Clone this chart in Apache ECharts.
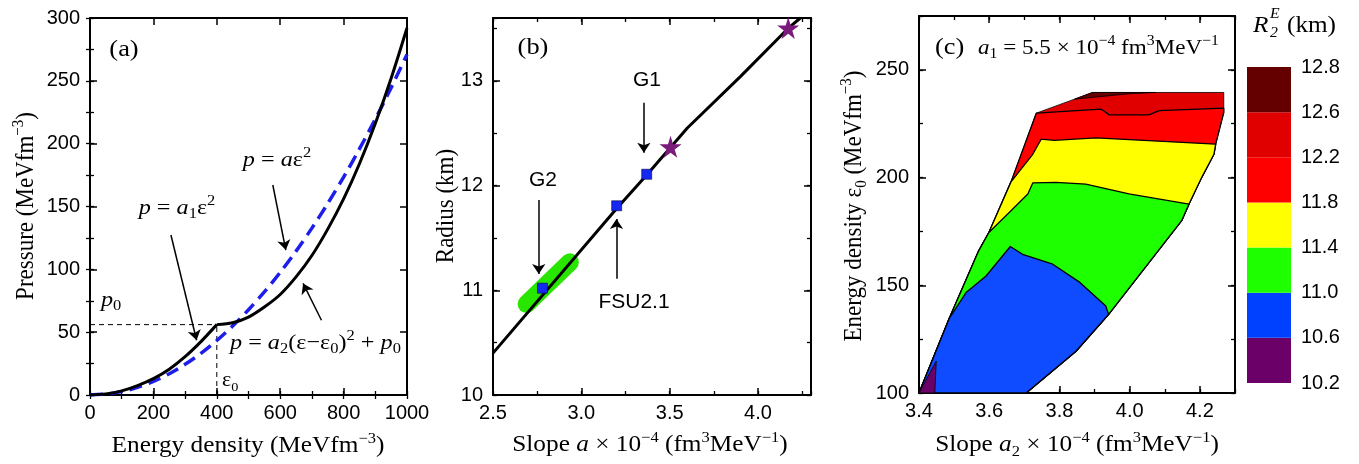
<!DOCTYPE html>
<html><head><meta charset="utf-8">
<script src="https://cdn.jsdelivr.net/npm/echarts@6/dist/echarts.min.js"></script>
<style>html,body{margin:0;padding:0;background:#fff}#c{width:1359px;height:464px}</style>
</head><body><div id="c"></div>
<script>
const SERIF = 'Liberation Serif';
const SANS = 'Liberation Sans';

// ---------- Panel (a) ----------
const epsLow = [0, 50, 100, 150, 200, 250, 300, 350, 400];
const pLow = [0, 0.9, 3.3, 7.5, 13, 20.5, 30.5, 42.5, 56];
const epsHigh = [400, 450, 500, 550, 600, 650, 700, 750, 800, 850, 900, 950, 1000];
const pHigh = [56, 57.5, 62, 70, 80, 94, 111, 132, 156, 184, 216, 252, 292];
const epsBlue = [0, 50, 100, 150, 200, 250, 300, 350, 400, 450, 500, 550, 600, 650, 700, 750, 800, 850, 900, 950, 1000];
const pBlue = [0, 0.7, 2.7, 6.1, 10.8, 16.9, 24.4, 33.2, 43.4, 54.9, 67.8, 82, 97.6, 114.5, 132.8, 152.4, 173.4, 195.8, 219.5, 244.6, 271];
const p0Guide = [[0, 56], [400, 56]];
const eps0Guide = [[400, 0], [400, 56]];
const arrowsA = [
  [[576.7, 167.1], [617.7, 115.3]],
  [[255.3, 127.3], [336.3, 43.6]],
  [[730.2, 59.5], [672.2, 88.8]]
];

// ---------- Panel (b) ----------
const slopeLine = [2.5, 3.2, 3.37, 3.6, 3.9, 4.17, 4.24];
const radiusLine = [10.4, 11.78, 12.1, 12.55, 13.04, 13.5, 13.6];
const squareSlope = [2.78, 3.2, 3.37];
const squareRadius = [11.02, 11.807, 12.108];
const starSlope = [3.505, 4.171];
const starRadius = [12.371, 13.505];
const greenBand = [[2.69, 10.87], [2.935, 11.267]];
const arrowsB = [
  [[3.354, 12.79], [3.354, 12.314]],
  [[2.759, 11.861], [2.759, 11.156]],
  [[3.199, 11.109], [3.199, 11.68]]
];

// ---------- Panel (c) contour regions (a2 x 1e-4, eps0) ----------
const regionAll = [[3.4,100],[3.487,134.9],[3.570,166],[3.599,174.5],[3.662,198],[3.734,229.9],[3.843,236.4],[3.894,239.5],[4.268,239.5],[4.268,232.2],[4.268,230.2],[4.245,215.5],[4.24,210.8],[4.205,200],[4.169,187.7],[4.148,180],[3.94,136.5],[3.847,119.4],[3.705,100]];
const region126 = [[3.843,236.4],[3.894,239.5],[4.074,239.5],[3.999,238.9]];
const regionBelow122 = [[3.734,229.9],[3.918,231.8],[3.942,229.1],[4.055,229.1],[4.084,231.1],[4.268,232.2],[4.268,230.2],[4.245,215.5],[4.24,210.8],[4.205,200],[4.169,187.7],[4.148,180],[3.94,136.5],[3.847,119.4],[3.705,100],[3.4,100],[3.487,134.9],[3.570,166],[3.599,174.5],[3.662,198]];
const regionBelow118 = [[3.662,198],[3.724,210.8],[3.748,217.8],[3.785,217.3],[3.904,218.4],[4.245,215.5],[4.24,210.8],[4.205,200],[4.169,187.7],[4.148,180],[3.94,136.5],[3.847,119.4],[3.705,100],[3.4,100],[3.487,134.9],[3.570,166],[3.599,174.5]];
const regionBelow114 = [[3.570,166],[3.599,174.5],[3.662,184.6],[3.710,192.4],[3.724,197.5],[3.790,197.8],[3.875,197],[3.998,192.4],[4.169,187.7],[4.148,180],[3.94,136.5],[3.847,119.4],[3.705,100],[3.4,100],[3.487,134.9]];
const regionBelow110 = [[3.487,134.9],[3.534,146.6],[3.591,154.3],[3.660,168],[3.695,164.4],[3.781,159.8],[3.856,151.6],[3.932,140.4],[3.940,136.5],[3.847,119.4],[3.705,100],[3.4,100]];
const regionBelow106 = [[3.4,100],[3.449,114.8],[3.445,100]];

// ---------- Colour bar ----------
const cbLabels = ['10.2', '10.6', '11.0', '11.4', '11.8', '12.2', '12.6', '12.8'];
const cbColors = ['#6A0068', '#0040FF', '#1EFF00', '#FFFF00', '#FF0000', '#E00000', '#640000'];
const cbSegments = [1, 1, 1, 1, 1, 1, 1];

const zip = (xs, ys) => xs.map((x, i) => [x, ys[i]]);

// ---------- axes ----------
const grids = [
  {left: 90, top: 18, width: 317, height: 377},
  {left: 493, top: 18, width: 318, height: 377},
  {left: 919, top: 16, width: 316, height: 377}
];
const allGrids = grids.concat(grids.map(g => Object.assign({}, g))).concat([{left: 1247, top: 67, width: 44, height: 316}]);

const plain = v => String(Math.round(v * 1000) / 1000);
const panels = [
  {x: {min: 0, max: 1000, major: 200, minor: 100, hideMax: false, fmt: plain},
   y: {min: 0, max: 300, major: 50, minor: 25, hideMax: false, fmt: plain}},
  {x: {min: 2.5, max: 4.3, major: 0.5, minor: 0.25, hideMax: true, fmt: v => v.toFixed(1)},
   y: {min: 10, max: 13.6, major: 1, minor: 0.5, hideMax: true, fmt: plain}},
  {x: {min: 3.4, max: 4.3, major: 0.2, minor: 0.1, hideMax: true, fmt: v => v.toFixed(1)},
   y: {min: 100, max: 275, major: 50, minor: 25, hideMax: true, fmt: plain}}
];

function mainAxis(spec, grid, pos, labels) {
  return {
    type: 'value', gridIndex: grid, position: pos, min: spec.min, max: spec.max, interval: spec.major,
    axisLine: {show: true, onZero: false, lineStyle: {color: '#000', width: 2}},
    axisTick: {show: true, inside: true, length: 7, lineStyle: {color: '#000', width: 1.5}},
    splitLine: {show: false},
    axisLabel: {show: labels, color: '#000', fontFamily: SANS, fontSize: 20, margin: (pos === 'left' ? 10 : 8),
      showMinLabel: true, showMaxLabel: !spec.hideMax, formatter: spec.fmt}
  };
}
function minorAxis(spec, grid, pos) {
  return {
    type: 'value', gridIndex: grid, position: pos, min: spec.min, max: spec.max, interval: spec.minor,
    axisLine: {show: false}, axisLabel: {show: false}, splitLine: {show: false},
    axisTick: {show: true, inside: true, length: 4, lineStyle: {color: '#000', width: 1.3}}
  };
}
const xAxes = [], yAxes = [];
panels.forEach((p, i) => {
  xAxes.push(mainAxis(p.x, i, 'bottom', true), mainAxis(p.x, i, 'top', false));
  yAxes.push(mainAxis(p.y, i, 'left', true), mainAxis(p.y, i, 'right', false));
});
panels.forEach((p, i) => {
  xAxes.push(minorAxis(p.x, 3 + i, 'bottom'), minorAxis(p.x, 3 + i, 'top'));
  yAxes.push(minorAxis(p.y, 3 + i, 'left'), minorAxis(p.y, 3 + i, 'right'));
});
// colour bar axes (index 12)
xAxes.push({type: 'category', gridIndex: 6, data: ['cb'], show: false});
yAxes.push({type: 'value', gridIndex: 6, position: 'right', min: 0, max: 7, interval: 1,
  axisLine: {show: false}, axisTick: {show: false}, splitLine: {show: false},
  axisLabel: {show: true, color: '#000', fontFamily: SANS, fontSize: 20, margin: 10,
    showMinLabel: true, showMaxLabel: true, formatter: v => cbLabels[Math.round(v)]}});

// ---------- series ----------
const series = [];
// Panel (a)
series.push({type: 'line', xAxisIndex: 0, yAxisIndex: 0, data: p0Guide, symbol: 'none', silent: true,
  lineStyle: {color: '#000', width: 1, type: [5, 4]}, z: 2});
series.push({type: 'line', xAxisIndex: 0, yAxisIndex: 0, data: eps0Guide, symbol: 'none', silent: true,
  lineStyle: {color: '#000', width: 1, type: [5, 4]}, z: 2});
series.push({type: 'line', xAxisIndex: 0, yAxisIndex: 0, data: zip(epsBlue, pBlue), symbol: 'none', smooth: 0.3, silent: true,
  lineStyle: {color: '#1E1EEB', width: 3.5, type: [13, 7]}, z: 3});
series.push({type: 'line', xAxisIndex: 0, yAxisIndex: 0, data: zip(epsLow, pLow), symbol: 'none', smooth: 0.3, silent: true,
  lineStyle: {color: '#000', width: 3}, z: 4});
series.push({type: 'line', xAxisIndex: 0, yAxisIndex: 0, data: zip(epsHigh, pHigh), symbol: 'none', smooth: 0.3, silent: true,
  lineStyle: {color: '#000', width: 3}, z: 4});
series.push({type: 'lines', coordinateSystem: 'cartesian2d', xAxisIndex: 0, yAxisIndex: 0, silent: true,
  symbol: ['none', 'arrow'], symbolSize: 10, lineStyle: {color: '#000', width: 1.5, opacity: 1, curveness: 0},
  data: arrowsA.map(c => ({coords: c})), z: 5});

// Panel (b)
series.push({type: 'line', xAxisIndex: 2, yAxisIndex: 2, data: greenBand, symbol: 'none', silent: true,
  lineStyle: {color: '#28E600', width: 18, cap: 'round'}, z: 2});
series.push({type: 'line', xAxisIndex: 2, yAxisIndex: 2, data: zip(slopeLine, radiusLine), symbol: 'none', silent: true,
  lineStyle: {color: '#000', width: 3}, z: 3});
series.push({type: 'scatter', xAxisIndex: 2, yAxisIndex: 2, data: zip(squareSlope, squareRadius), symbol: 'rect', symbolSize: 10,
  itemStyle: {color: '#1428F0', borderColor: '#000050', borderWidth: 0.6, opacity: 1}, silent: true, z: 4});
series.push({type: 'scatter', xAxisIndex: 2, yAxisIndex: 2, data: zip(starSlope, starRadius),
  symbol: 'path://M50,0 L61,35 L98,35 L68,57 L79,91 L50,70 L21,91 L32,57 L2,35 L39,35 Z', symbolSize: 22,
  itemStyle: {color: '#7A1A7A', opacity: 1}, silent: true, z: 5});
series.push({type: 'lines', coordinateSystem: 'cartesian2d', xAxisIndex: 2, yAxisIndex: 2, silent: true,
  symbol: ['none', 'arrow'], symbolSize: 10, lineStyle: {color: '#000', width: 1.5, opacity: 1, curveness: 0},
  data: arrowsB.map(c => ({coords: c})), z: 5});

// Panel (c)
function polySeries(points, color, z, lw) {
  return {type: 'custom', xAxisIndex: 4, yAxisIndex: 4, z: z, silent: true, data: points, encode: {x: 0, y: 1},
    renderItem: (params, api) => {
      if (params.dataIndex !== 0) return null;
      return {type: 'polygon', shape: {points: points.map(p => api.coord(p))},
        style: {fill: color, stroke: '#000', lineWidth: lw, lineJoin: 'round'}};
    }};
}
series.push(polySeries(regionAll, '#E00000', 2, 0.8));
series.push(polySeries(region126, '#640000', 3, 0.8));
series.push(polySeries(regionBelow122, '#FF0000', 4, 1.3));
series.push(polySeries(regionBelow118, '#FFFF00', 5, 1.3));
series.push(polySeries(regionBelow114, '#1EFF00', 6, 1.3));
series.push(polySeries(regionBelow110, '#0F4BFF', 7, 1.3));
series.push(polySeries(regionBelow106, '#6A0068', 8, 0.8));

// Colour bar
cbSegments.forEach((v, i) => {
  series.push({type: 'bar', xAxisIndex: 12, yAxisIndex: 12, stack: 'cb', data: [v], barWidth: '100%', silent: true,
    itemStyle: {color: cbColors[i]}});
});

// ---------- texts ----------
function rich(base) {
  const s = Math.round(base * 0.66);
  return {
    n: {fontFamily: SERIF, fontSize: base, lineHeight: base + 6},
    i: {fontFamily: SERIF, fontSize: base, fontStyle: 'italic', lineHeight: base + 6},
    sup: {fontFamily: SERIF, fontSize: s, lineHeight: s + 2, verticalAlign: 'top'},
    sub: {fontFamily: SERIF, fontSize: s, lineHeight: s + 2, verticalAlign: 'bottom'},
    isup: {fontFamily: SERIF, fontSize: s, fontStyle: 'italic', lineHeight: s + 2, verticalAlign: 'top'},
    isub: {fontFamily: SERIF, fontSize: s, fontStyle: 'italic', lineHeight: s + 2, verticalAlign: 'bottom'}
  };
}
function T(x, y, text, opt) {
  opt = opt || {};
  const base = opt.size || 23;
  const align = opt.align || 'center';
  const el = {type: 'text', x: x, y: y, silent: true, z: 100,
    style: {text: text, rich: rich(base), fill: '#000', fontFamily: opt.family || SERIF, fontSize: base,
      fontStyle: opt.italic ? 'italic' : 'normal',
      align: align, textAlign: align, verticalAlign: 'middle', textVerticalAlign: 'middle'}};
  if (opt.rot) { el.rotation = Math.PI / 2; el.scaleY = opt.stretch || 1.1; }
  else { el.scaleX = opt.stretch || 1.1; }
  return el;
}
function S(x, y, text) {
  return {type: 'text', x: x, y: y, z: 100, silent: true,
    style: {text: text, fill: '#000', fontFamily: SANS, fontSize: 21, align: 'center', verticalAlign: 'middle',
      textAlign: 'center', textVerticalAlign: 'middle'}};
}
const graphics = [
  // axis titles
  T(248, 446, '{n|Energy density (MeVfm}{sup|−3}{n|)}'),
  T(26, 206, '{n|Pressure (MeVfm}{sup|−3}{n|)}', {rot: true}),
  T(650, 445, '{n|Slope }{i|a}{n| × 10}{sup|−4}{n| (fm}{sup|3}{n|MeV}{sup|−1}{n|)}'),
  T(446, 206, '{n|Radius (km)}', {rot: true}),
  T(1077, 445, '{n|Slope }{i|a}{sub|2}{n| × 10}{sup|−4}{n| (fm}{sup|3}{n|MeV}{sup|−1}{n|)}'),
  T(854, 206, '{n|Energy density ε}{sub|0}{n| (MeVfm}{sup|−3}{n|)}', {rot: true}),
  // panel (a)
  T(124, 50, '{n|(a)}', {size: 24}),
  T(277, 160, '{i|p}{n| = }{i|a}{n|ε}{sup|2}', {size: 22}),
  T(177, 208, '{i|p}{n| = }{i|a}{sub|1}{n|ε}{sup|2}', {size: 22}),
  T(230, 343, '{i|p}{n| = }{i|a}{sub|2}{n|(ε−ε}{sub|0}{n|)}{sup|2}{n| + }{i|p}{sub|0}', {size: 22, align: 'left'}),
  T(101, 300, '{i|p}{sub|0}', {size: 22, align: 'left'}),
  T(222, 381, '{n|ε}{sub|0}', {size: 20, align: 'left'}),
  // panel (b)
  T(533, 48, '{n|(b)}', {size: 24}),
  S(647, 80, 'G1'),
  S(543, 180, 'G2'),
  S(634, 302, 'FSU2.1'),
  // panel (c)
  T(935, 48, '{n|(c)}', {size: 24, align: 'left'}),
  T(978, 48, '{i|a}{sub|1}{n| = 5.5 × 10}{sup|−4}{n| fm}{sup|3}{n|MeV}{sup|−1}', {size: 22, align: 'left', stretch: 1.05}),
  // colour bar title
  T(1253, 26, '{i|R}', {size: 24, align: 'left', stretch: 1.05}),
  T(1270, 14, '{i|E}', {size: 15, align: 'left', stretch: 1.05}),
  T(1270, 33, '{i|2}', {size: 15, align: 'left', stretch: 1.05}),
  T(1287, 26, '{n|(km)}', {size: 24, align: 'left', stretch: 1.05})
];

const chart = echarts.init(document.getElementById('c'), null, {renderer: 'canvas'});
chart.setOption({
  animation: false,
  backgroundColor: '#fff',
  grid: allGrids,
  xAxis: xAxes,
  yAxis: yAxes,
  series: series,
  graphic: graphics
});
</script>
</body></html>
